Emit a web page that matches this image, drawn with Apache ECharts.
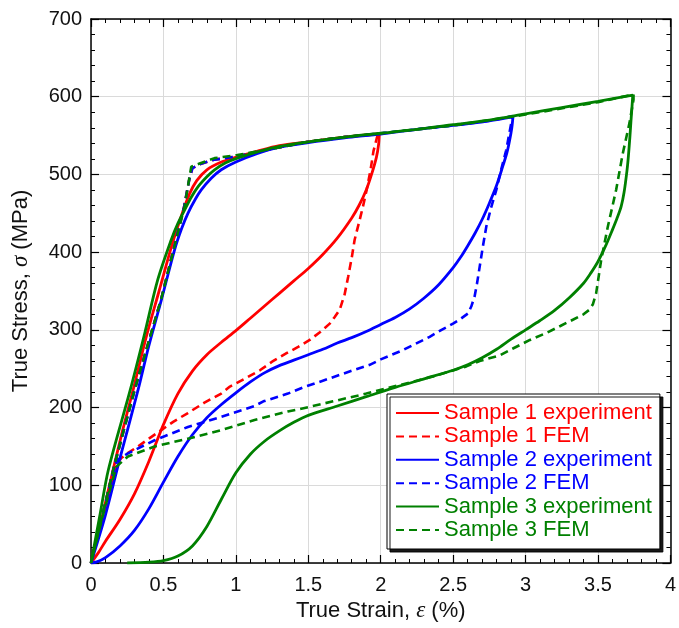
<!DOCTYPE html>
<html>
<head>
<meta charset="utf-8">
<script src="https://cdn.jsdelivr.net/npm/echarts@6/dist/echarts.min.js"></script>
<style>
  html, body { margin: 0; padding: 0; background: #fff; }
  #chart { width: 679px; height: 628px; }
</style>
</head>
<body>
<div id="chart"></div>
<script>
// Axis ticks
const strainTicks = [0, 0.5, 1, 1.5, 2, 2.5, 3, 3.5, 4];
const stressTicks = [0, 100, 200, 300, 400, 500, 600, 700];

const seriesNames = [
  'Sample 1 experiment', 'Sample 1 FEM',
  'Sample 2 experiment', 'Sample 2 FEM',
  'Sample 3 experiment', 'Sample 3 FEM'
];

// [strain %, stress MPa] along each loading / unloading path
const sample1Exp = [
  [0,0],[0.08,62],[0.15,118],[0.22,172],[0.29,222],[0.38,290],[0.47,350],[0.56,410],
  [0.63,450],[0.68,475],[0.73,492],[0.80,506],[0.90,516],[1.0,522],[1.15,530],[1.3,537],
  [1.5,542],[1.75,548],[1.9,551],[1.99,552],
  [1.985,538],[1.97,522],[1.94,502],[1.9,480],[1.85,460],[1.8,444],[1.7,418],
  [1.6,397],[1.5,379],[1.4,363],[1.3,347],[1.2,331],[1.1,315],[1.0,299],[0.9,284],
  [0.8,268],[0.7,247],[0.6,218],[0.5,178],[0.4,131],[0.3,89],[0.2,56],[0.1,28],
  [0.05,13],[0,0]
];
const sample1Fem = [
  [0,0],[0.163,127],[0.30,222],[0.485,340],[0.64,456],[0.68,495],[0.70,508],[0.75,513],
  [0.85,519],[1.0,523],[1.25,533],[1.5,542],[1.75,548],[1.98,552],
  [1.95,530],[1.93,506],[1.905,482],[1.878,459],[1.85,438],[1.82,416],[1.80,393],
  [1.775,368],[1.75,345],[1.717,326],[1.68,316],[1.648,308],[1.58,297],[1.51,287],
  [1.43,278],[1.35,270],[1.25,259],[1.166,248],[1.06,237],[0.959,227],[0.899,218],
  [0.78,206],[0.669,193],[0.57,182],[0.485,171],[0.40,160],[0.324,150],[0.25,141],
  [0.209,135],[0.175,126],[0.09,65],[0,0]
];
const sample2Exp = [
  [0,0],[0.1,62],[0.2,135],[0.324,222],[0.40,280],[0.485,338],[0.577,403],[0.625,430],
  [0.669,450],[0.72,468],[0.761,480],[0.83,495],[0.899,506],[1.0,516],[1.15,527],
  [1.3,535],[1.5,541],[1.75,547],[2.0,552],[2.25,558],[2.5,563],[2.75,569],[2.913,574],
  [2.905,560],[2.89,544],[2.87,527],[2.845,512],[2.8,486],[2.75,463],[2.7,442],
  [2.65,424],[2.6,408],[2.55,393],[2.5,380],[2.4,358],[2.3,341],[2.2,327],[2.1,316],
  [2.0,307],[1.9,298],[1.8,290],[1.7,283],[1.6,275],[1.5,268],[1.4,261],[1.3,254],
  [1.2,245],[1.1,233],[1.0,219],[0.9,204],[0.8,187],[0.7,165],[0.6,137],[0.5,104],
  [0.4,70],[0.3,42],[0.2,22],[0.1,7],[0.04,1.5],[0,0]
];
const sample2Fem = [
  [0,0],[0.163,127],[0.30,222],[0.485,340],[0.64,456],[0.68,495],[0.70,508],[0.75,513],
  [0.85,519],[1.0,523],[1.25,533],[1.5,542],[1.75,548],[2.0,553],[2.25,558],[2.5,563],
  [2.75,569],[2.91,575],
  [2.89,555],[2.866,531],[2.83,505],[2.798,480],[2.76,456],[2.729,433],[2.705,407],
  [2.683,381],[2.665,360],[2.648,343],[2.625,330],[2.602,321],[2.55,314],[2.499,308],
  [2.42,300],[2.338,291],[2.24,282],[2.154,274],[2.0,262],[1.924,255],[1.809,248],
  [1.64,237],[1.464,226],[1.359,218],[1.19,208],[1.129,202],[0.899,188],[0.669,175],
  [0.439,158],[0.255,141],[0.186,133],[0.17,128],[0.08,62],[0,0]
];
const sample3Exp = [
  [0,0],[0.06,60],[0.12,120],[0.27,222],[0.37,295],[0.46,364],[0.554,416],[0.6,437],
  [0.646,454],[0.69,470],[0.738,484],[0.8,497],[0.853,506],[0.93,515],[1.01,521],
  [1.15,529],[1.3,536],[1.5,542],[1.75,548],[2.0,553],[2.25,558],[2.5,564],[2.75,570],
  [3.0,578],[3.25,586],[3.5,594],[3.74,602],
  [3.735,588],[3.728,570],[3.72,548],[3.71,524],[3.70,505],[3.68,477],[3.66,459],
  [3.63,443],[3.6,429],[3.55,407],[3.5,388],[3.45,373],[3.4,360],[3.3,341],[3.2,325],
  [3.1,312],[3.0,300],[2.9,288],[2.8,275],[2.7,264],[2.6,255],[2.5,248],[2.3,237],
  [2.1,226],[1.9,214],[1.7,202],[1.5,190],[1.4,181],[1.3,170],[1.2,157],[1.1,140],
  [1.0,116],[0.9,82],[0.8,47],[0.7,22],[0.6,9],[0.5,3],[0.4,1],[0.25,0]
];
const sample3Fem = [
  [0,0],[0.163,127],[0.30,222],[0.485,340],[0.646,459],[0.692,510],[0.75,514],
  [0.853,521],[1.01,525],[1.25,533],[1.5,542],[1.75,548],[2.0,553],[2.5,563],[3.0,577],
  [3.5,593],[3.745,603],
  [3.745,596],[3.717,566],[3.671,527],[3.625,480],[3.568,433],[3.522,390],[3.487,347],
  [3.465,333],[3.441,326],[3.40,320],[3.326,313],[3.24,305],[3.143,296],[3.03,287],
  [2.913,276],[2.82,267],[2.683,260],[2.591,253],[2.361,240],[2.131,229],[1.901,218],
  [1.671,208],[1.441,198],[1.359,195],[1.129,184],[0.899,171],[0.669,160],[0.439,150],
  [0.255,137],[0.175,124],[0.08,60],[0,0]
];

const colors = ['#ff0000', '#ff0000', '#0000ff', '#0000ff', '#008000', '#008000'];
const curves = [sample1Exp, sample1Fem, sample2Exp, sample2Fem, sample3Exp, sample3Fem];

const FONT = '"Liberation Sans", Arial, sans-serif';

function makeSeries(i) {
  const dashed = i % 2 === 1;
  return {
    name: seriesNames[i],
    type: 'line',
    data: curves[i],
    symbol: 'none',
    smooth: dashed ? false : 0.3,
    lineStyle: {
      color: colors[i],
      width: dashed ? 2.6 : 2.8,
      type: dashed ? [8, 5] : 'solid'
    },
    itemStyle: { color: colors[i] },
    z: 2 + i
  };
}

const tickCommon = {
  axisLine: { show: true, onZero: false, lineStyle: { color: '#000', width: 1.5 } },
  axisTick: { show: true, inside: true, length: 8, lineStyle: { color: '#000', width: 1.2 } },
  minorTick: { show: true, splitNumber: 5, length: 4, lineStyle: { color: '#000', width: 1 } }
};

const chart = echarts.init(document.getElementById('chart'), null, { renderer: 'canvas' });
chart.setOption({
  animation: false,
  backgroundColor: '#fff',
  grid: { left: 91, right: 8, top: 19, bottom: 65 },
  xAxis: [
    Object.assign({
      type: 'value', min: strainTicks[0], max: strainTicks[strainTicks.length - 1], interval: 0.5,
      name: 'True Strain, {i|ε} (%)',
      nameLocation: 'middle', nameGap: 36,
      nameTextStyle: {
        fontFamily: FONT, fontSize: 22, color: '#111',
        rich: { i: { fontFamily: '"Liberation Serif", serif', fontStyle: 'italic', fontSize: 23, color: '#111' } }
      },
      axisLabel: { fontFamily: FONT, fontSize: 20, color: '#111', margin: 12 },
      splitLine: { show: true, lineStyle: { color: '#dadada', width: 1 } }
    }, tickCommon),
    Object.assign({
      type: 'value', position: 'top', min: 0, max: 4, interval: 0.5,
      axisLabel: { show: false }, splitLine: { show: false }
    }, tickCommon)
  ],
  yAxis: [
    Object.assign({
      type: 'value', min: stressTicks[0], max: stressTicks[stressTicks.length - 1], interval: 100,
      name: 'True Stress, {i|σ} (MPa)',
      nameLocation: 'middle', nameGap: 59,
      nameTextStyle: {
        fontFamily: FONT, fontSize: 22, color: '#111',
        rich: { i: { fontFamily: '"Liberation Serif", serif', fontStyle: 'italic', fontSize: 23, color: '#111' } }
      },
      axisLabel: { fontFamily: FONT, fontSize: 20, color: '#111', margin: 9 },
      splitLine: { show: true, lineStyle: { color: '#dadada', width: 1 } }
    }, tickCommon),
    Object.assign({
      type: 'value', position: 'right', min: 0, max: 700, interval: 100,
      axisLabel: { show: false }, splitLine: { show: false }
    }, tickCommon)
  ],
  legend: {
    orient: 'vertical',
    left: 387, top: 394,
    padding: [8, 8, 8, 8],
    itemGap: 1.4,
    itemWidth: 43,
    itemHeight: 14,
    itemStyle: { opacity: 0 },
    backgroundColor: '#fff',
    borderColor: '#000',
    borderWidth: 1,
    borderRadius: 0,
    shadowColor: 'rgba(0,0,0,0.9)',
    shadowBlur: 0,
    shadowOffsetX: 3,
    shadowOffsetY: 3,
    textStyle: { fontFamily: FONT, fontSize: 22, lineHeight: 22 },
    data: seriesNames.map((n, i) => ({ name: n, textStyle: { color: colors[i] } }))
  },
  series: curves.map((_, i) => makeSeries(i))
});
</script>
</body>
</html>
